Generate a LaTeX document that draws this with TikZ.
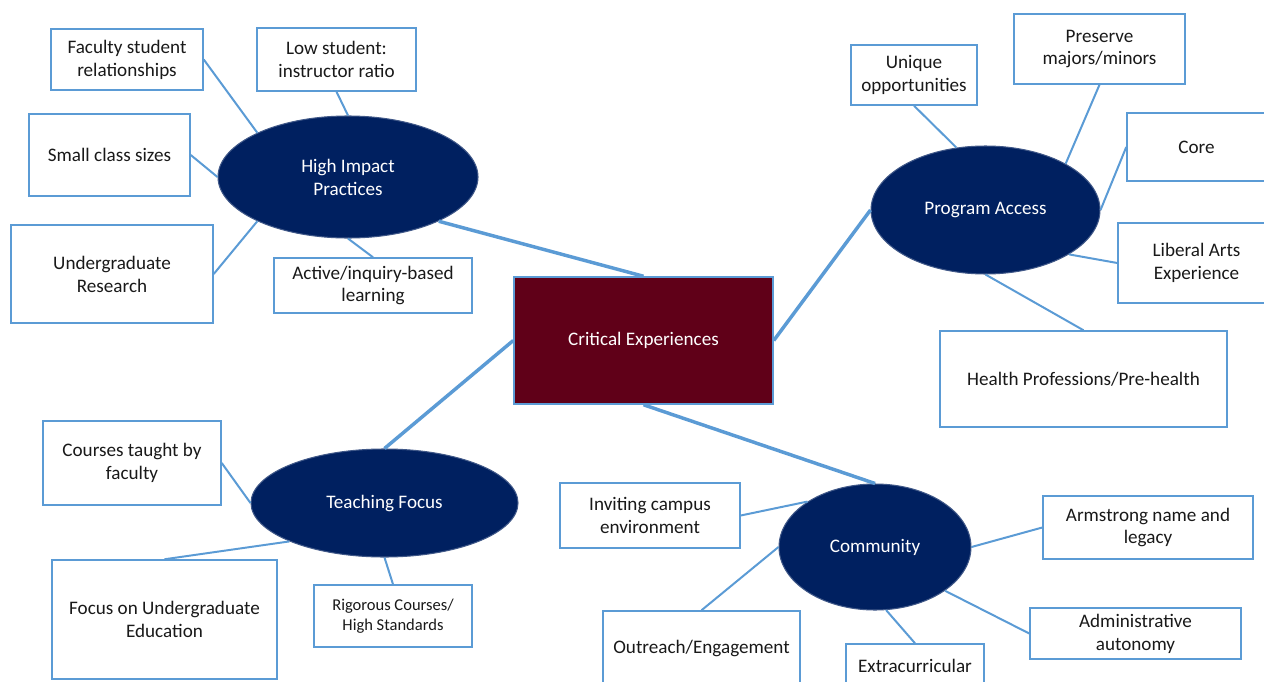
\documentclass[tikz,border=0pt]{standalone}
\usepackage{fontspec}
\setmainfont{Carlito}
\usetikzlibrary{shapes.geometric}
\definecolor{linkblue}{HTML}{5B9BD5}
\definecolor{hubnavy}{HTML}{002060}
\definecolor{coremaroon}{HTML}{600018}
\tikzset{
  sz/.style 2 args={minimum width=#1*0.575pt, minimum height=#2*0.575pt},
  leaf/.style={draw=linkblue, line width=0.85pt, fill=white, align=center,
    inner sep=1pt, text=black!90, font=\fontsize{11}{13.2}\selectfont},
  hub/.style={ellipse, draw=hubnavy!75!white, line width=0.6pt, fill=hubnavy,
    text=white, align=center, inner sep=0pt, font=\fontsize{11}{13.2}\selectfont},
  spoke/.style={draw=linkblue, line width=1.15pt},
  trunk/.style={draw=linkblue, line width=2pt},
}
\begin{document}
\begin{tikzpicture}[x=0.575pt,y=-0.575pt]
\useasboundingbox (0,0) rectangle (1264,681);
\clip (0,0) rectangle (1264,681);
% centre
\node[leaf, sz={259}{127}, fill=coremaroon, text=white] (crit) at (643.5,340.5) {Critical Experiences};
% hubs
\node[hub, sz={260}{122}] (hip) at (348,177) {High Impact\\Practices};
\node[hub, sz={229}{128}] (pa) at (985.5,210) {Program Access};
\node[hub, sz={267}{108}] (tf) at (384.5,503) {Teaching Focus};
\node[hub, sz={192}{126}] (com) at (875,547) {Community};
% high impact practices
\node[leaf, sz={152}{61}] (fac) at (127,59.5) {Faculty student\\relationships};
\node[leaf, sz={159}{63}] (low) at (336.5,59.5) {Low student:\\instructor ratio};
\node[leaf, sz={161}{82}] (small) at (109.5,155) {Small class sizes};
\node[leaf, sz={202}{98}] (ugr) at (112,274) {Undergraduate\\Research};
\node[leaf, sz={198}{55}] (active) at (373,285.5) {Active/inquiry-based\\learning};
% program access
\node[leaf, sz={126}{60}] (uniq) at (914,75) {Unique\\opportunities};
\node[leaf, sz={171}{70}] (pres) at (1099.5,49) {Preserve\\majors/minors};
\node[leaf, sz={139}{68}] (core) at (1196.5,147) {Core};
\node[leaf, sz={157}{80}] (lib) at (1196.5,263) {Liberal Arts\\Experience};
\node[leaf, sz={287}{96}] (health) at (1083.5,379) {Health Professions/Pre-health};
% teaching focus
\node[leaf, sz={178}{84}] (courses) at (132,463) {Courses taught by\\faculty};
\node[leaf, sz={225}{119}] (focus) at (164.5,619.5) {Focus on Undergraduate\\Education};
\node[leaf, sz={158}{62}, font=\fontsize{9.5}{11.5}\selectfont] (rig) at (393,616) {Rigorous Courses/\\High Standards};
% community
\node[leaf, sz={180}{65}] (invit) at (650,515.5) {Inviting campus\\environment};
\node[leaf, sz={210}{63}] (arm) at (1148,527.5) {Armstrong name and\\legacy};
\node[leaf, sz={211}{51}] (admin) at (1135.5,633.5) {Administrative\\autonomy};
\node[leaf, sz={197}{74}] (out) at (701.5,648) {Outreach/Engagement};
\node[leaf, sz={138}{44}] (extra) at (915,666) {Extracurricular};
\path[trunk]
  (hip.-26) edge (crit.north)
  (crit.east) edge (pa.west)
  (crit.west) edge (tf.north)
  (crit.south) edge (com.north)
;
\path[spoke]
  (fac.east) edge (hip.154)
  (low.south) edge (hip.north)
  (small.east) edge (hip.west)
  (ugr.east) edge (hip.206)
  (active.north) edge (hip.south)
  (uniq.south) edge (pa.115)
  (pres.south) edge (pa.30)
  (core.west) edge (pa.east)
  (lib.west) edge (pa.-28)
  (health.north) edge (pa.south)
  (courses.east) edge (tf.west)
  (focus.north) edge (tf.202)
  (rig.north) edge (tf.south)
  (invit.east) edge (com.146)
  (arm.west) edge (com.east)
  (admin.west) edge (com.-32)
  (out.north) edge (com.west)
  (extra.north) edge (com.-80)
;
\end{tikzpicture}
\end{document}
